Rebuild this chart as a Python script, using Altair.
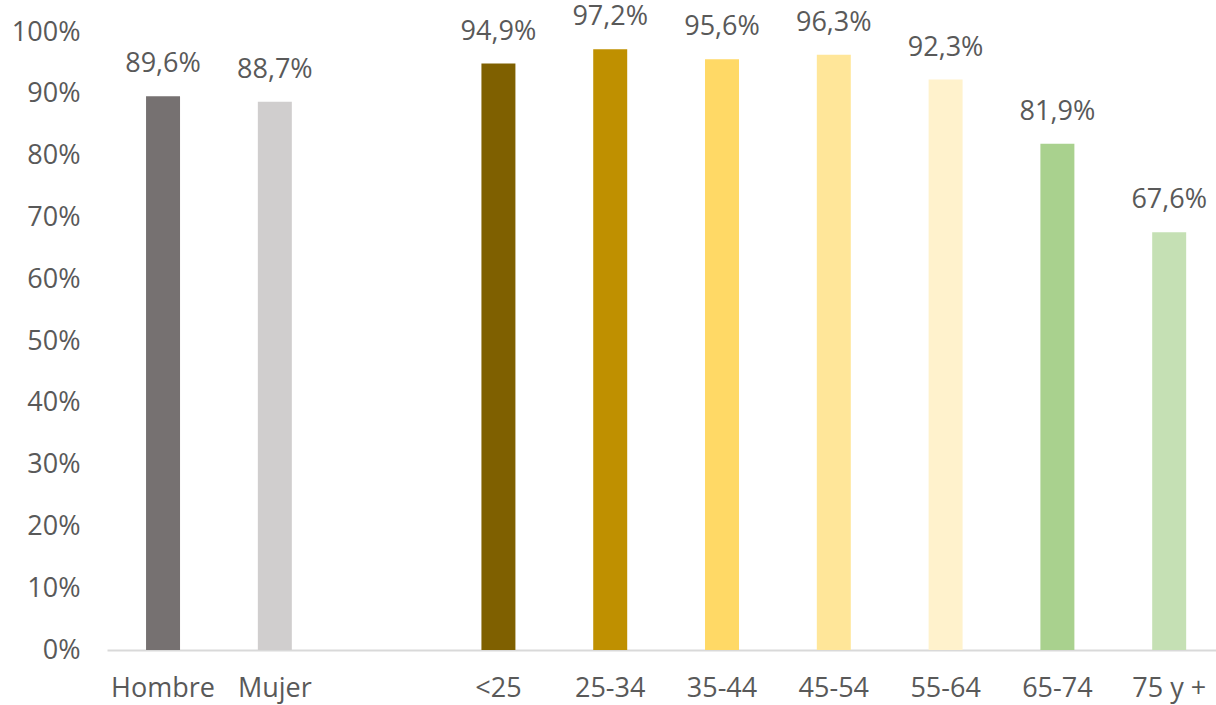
import altair as alt
import pandas as pd

# Categories (a blank slot separates sex from age groups)
categories = ["Hombre", "Mujer", " ", "<25", "25-34", "35-44", "45-54", "55-64", "65-74", "75 y +"]
bar_categories = ["Hombre", "Mujer", "<25", "25-34", "35-44", "45-54", "55-64", "65-74", "75 y +"]
values = [89.6, 88.7, 94.9, 97.2, 95.6, 96.3, 92.3, 81.9, 67.6]
colors = ["#767171", "#D0CECE", "#7F6000", "#BF9000", "#FFD966", "#FFE699", "#FFF2CC", "#A9D18E", "#C5E0B4"]
y_ticks = [0, 10, 20, 30, 40, 50, 60, 70, 80, 90, 100]

df = pd.DataFrame({"cat": bar_categories, "val": values})

FONT = "Open Sans"
TEXT_COLOR = "#595959"
FS = 27

x = alt.X(
    "cat:N",
    scale=alt.Scale(domain=categories, paddingInner=0.696, paddingOuter=0.308, align=0.567),
    axis=alt.Axis(
        title=None,
        labelAngle=0,
        ticks=False,
        tickSize=0,
        labelPadding=25,
        labelFontSize=FS,
        labelFont=FONT,
        labelColor=TEXT_COLOR,
        domainColor="#D9D9D9",
        domainWidth=2,
        grid=False,
    ),
)

y = alt.Y(
    "val:Q",
    scale=alt.Scale(domain=[0, 100], nice=False),
    axis=alt.Axis(
        title=None,
        values=y_ticks,
        labelExpr="datum.value + '%'",
        ticks=False,
        tickSize=0,
        domain=False,
        grid=False,
        labelPadding=27,
        labelFontSize=FS,
        labelFont=FONT,
        labelColor=TEXT_COLOR,
    ),
)

color = alt.Color("cat:N", scale=alt.Scale(domain=bar_categories, range=colors), legend=None)

bars = alt.Chart(df).mark_bar().encode(x=x, y=y, color=color)

labels = (
    alt.Chart(df)
    .transform_calculate(label="replace(format(datum.val, '.1f'), '.', ',') + '%'")
    .mark_text(dy=-24, baseline="alphabetic", fontSize=FS, font=FONT, color=TEXT_COLOR)
    .encode(x=x, y=y, text="label:N")
)

chart = (
    alt.layer(bars, labels)
    .properties(
        width=1109,
        height=618,
        background="white",
        autosize=alt.AutoSizeParams(type="none"),
        padding={"left": 107, "top": 32, "right": 0, "bottom": 55},
    )
    .configure_view(strokeWidth=0, stroke="transparent")
)

chart.save("out.html", embed_options={"renderer": "svg", "actions": False})
